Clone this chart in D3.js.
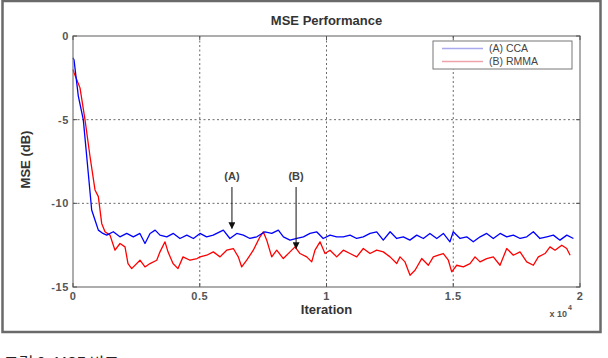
<!DOCTYPE html>
<html>
<head>
<meta charset="utf-8">
<script src="https://cdn.jsdelivr.net/npm/d3@7"></script>
<style>
  body { margin: 0; background: #fff; overflow: hidden; }
  svg { display: block; font-family: Arial, "Liberation Sans", sans-serif; }
</style>
</head>
<body>
<script>
//values (iteration, MSE in dB)
var itersCCA = [0, 40, 210, 406, 603, 737, 868, 1000, 1180, 1330, 1590, 1850, 2120, 2380, 2640, 2840, 3040, 3240, 3430,
  3700, 3960, 4220, 4490, 4750, 5010, 5270, 5530, 5930, 6190, 6460, 6720, 6980, 7250, 7570, 7840, 8100, 8300, 8560,
  8830, 9090, 9350, 9610, 9870, 10140, 10400, 10660, 10930, 11190, 11450, 11720, 11980, 12240, 12510, 12770, 13030,
  13290, 13560, 13820, 14080, 14350, 14610, 14870, 15000, 15270, 15530, 15790, 16060, 16320, 16580, 16850, 17110,
  17370, 17640, 17900, 18160, 18420, 18690, 18950, 19210, 19480, 19740];
var mseCCA = [-1.3, -1.43, -3.6, -5.0, -8.2, -10.4, -11.0, -11.6, -11.8, -11.9, -11.7, -12.0, -11.8, -12.0, -11.8, -12.4, -11.8, -11.6, -11.9,
  -12.0, -11.8, -12.1, -11.9, -12.1, -11.8, -12.0, -11.9, -11.6, -12.1, -11.8, -11.9, -12.1, -12.0, -11.7, -11.8, -11.6, -12.0, -12.2,
  -12.1, -12.0, -11.8, -11.7, -12.1, -11.9, -12.0, -12.0, -11.9, -12.1, -12.0, -11.8, -11.7, -12.2, -11.7, -12.1, -12.0,
  -12.2, -11.9, -12.1, -11.8, -12.1, -11.8, -12.3, -11.7, -12.1, -12.0, -12.3, -12.0, -11.8, -12.1, -11.8, -12.0,
  -11.9, -12.1, -12.0, -11.7, -12.1, -12.0, -11.9, -12.2, -11.9, -12.1];

var itersRMMA = [0, 40, 276, 473, 671, 868, 1000, 1132, 1262, 1460, 1657, 1854, 2051, 2170, 2316, 2643, 2840, 3038, 3302,
  3432, 3629, 3748, 3945, 4142, 4340, 4616, 4892, 5010, 5274, 5535, 5800, 6063, 6324, 6521, 6655, 6853, 7113, 7377,
  7507, 7642, 7839, 8036, 8296, 8560, 8758, 8955, 9220, 9417, 9547, 9744, 9941, 10138, 10403, 10663, 10928, 11192,
  11452, 11717, 11981, 12241, 12506, 12770, 12900, 13097, 13295, 13492, 13756, 14017, 14214, 14411, 14608, 14806,
  14940, 15137, 15397, 15662, 15859, 16056, 16320, 16580, 16845, 17110, 17370, 17634, 17898, 18160, 18357, 18620,
  18816, 19015, 19280, 19476, 19610];
var mseRMMA = [-2.0, -2.2, -3.1, -5.0, -7.2, -9.2, -9.6, -11.2, -11.7, -11.9, -12.8, -12.4, -12.6, -13.6, -13.9, -13.4, -13.8, -13.6, -13.4,
  -12.9, -12.3, -12.9, -13.6, -13.9, -13.2, -13.4, -13.3, -13.2, -13.1, -12.9, -13.2, -12.8, -12.7, -13.2, -13.8, -13.4, -12.8, -12.0,
  -11.7, -12.2, -13.2, -12.8, -13.3, -12.9, -12.6, -13.0, -13.2, -13.5, -12.8, -12.3, -13.0, -12.8, -13.2, -12.8, -13.0, -13.2,
  -12.7, -13.0, -12.8, -12.9, -13.2, -13.6, -13.2, -13.5, -14.3, -14.0, -13.3, -13.7, -13.2, -13.1, -13.0, -13.4,
  -14.1, -13.7, -13.8, -13.6, -13.2, -13.5, -13.3, -13.2, -13.7, -12.7, -13.1, -12.9, -13.5, -13.7, -13.2, -13.0,
  -12.6, -12.8, -12.5, -12.7, -13.1];

var xTicks = [0, 5000, 10000, 15000, 20000];
var xTickLabels = ["0", "0.5", "1", "1.5", "2"];
var yTicks = [0, -5, -10, -15];
var seriesNames = ["(A) CCA", "(B) RMMA"];
var seriesColors = ["#0000ff", "#ff0000"];
var legendColors = ["#a9a9ee", "#eea3ab"];
//annotation arrows: label, iteration, arrow tip (dB)
var noteLabels = ["(A)", "(B)"];
var noteIters = [6270, 8800];
var noteTips = [-11.5, -12.7];

(function(){
var width = 608, height = 358;
var mLeft = 73, mRight = 580, mTop = 36, mBottom = 287;

var svg = d3.select("body").append("svg")
    .attr("width", width)
    .attr("height", height);

//outer frame of the figure
svg.append("rect")
    .attr("x", 2.5).attr("y", 1)
    .attr("width", 598).attr("height", 331)
    .attr("fill", "#fff")
    .attr("stroke", "#6a6a6a")
    .attr("stroke-width", 2.5);

var x = d3.scaleLinear().domain([0, 20000]).range([mLeft, mRight]);
var y = d3.scaleLinear().domain([-15, 0]).range([mBottom, mTop]);

//grid
var grid = svg.append("g").attr("stroke", "#444").attr("stroke-width", 0.8).attr("stroke-dasharray", "2,2.5");
grid.selectAll(".gx").data(xTicks.slice(1, -1)).enter().append("line")
    .attr("x1", function(d){ return x(d); }).attr("x2", function(d){ return x(d); })
    .attr("y1", mTop).attr("y2", mBottom);
grid.selectAll(".gy").data(yTicks.slice(1, -1)).enter().append("line")
    .attr("x1", mLeft).attr("x2", mRight)
    .attr("y1", function(d){ return y(d); }).attr("y2", function(d){ return y(d); });

//series lines
var line = d3.line()
    .x(function(d){ return x(d[0]); })
    .y(function(d){ return y(d[1]); });

var dataCCA = d3.zip(itersCCA, mseCCA);
var dataRMMA = d3.zip(itersRMMA, mseRMMA);

svg.append("path").datum(dataRMMA)
    .attr("d", line).attr("fill", "none")
    .attr("stroke", seriesColors[1]).attr("stroke-width", 1.3).attr("stroke-linejoin", "round");
svg.append("path").datum(dataCCA)
    .attr("d", line).attr("fill", "none")
    .attr("stroke", seriesColors[0]).attr("stroke-width", 1.3).attr("stroke-linejoin", "round");

//axes box with inward ticks
svg.append("rect")
    .attr("x", mLeft).attr("y", mTop)
    .attr("width", mRight - mLeft).attr("height", mBottom - mTop)
    .attr("fill", "none").attr("stroke", "#777").attr("stroke-width", 1.2);

var tickG = svg.append("g").attr("stroke", "#555").attr("stroke-width", 1);
xTicks.forEach(function(t){
    tickG.append("line").attr("x1", x(t)).attr("x2", x(t)).attr("y1", mBottom).attr("y2", mBottom - 4);
    tickG.append("line").attr("x1", x(t)).attr("x2", x(t)).attr("y1", mTop).attr("y2", mTop + 4);
});
yTicks.forEach(function(t){
    tickG.append("line").attr("x1", mLeft).attr("x2", mLeft + 4).attr("y1", y(t)).attr("y2", y(t));
    tickG.append("line").attr("x1", mRight).attr("x2", mRight - 4).attr("y1", y(t)).attr("y2", y(t));
});

//tick labels
svg.selectAll(".xl").data(xTicks).enter().append("text")
    .attr("x", function(d){ return x(d); })
    .attr("y", mBottom + 13)
    .attr("text-anchor", "middle")
    .attr("font-size", 11).attr("font-weight", "bold").attr("fill", "#555")
    .attr("letter-spacing", 0.6)
    .text(function(d, i){ return xTickLabels[i]; });
svg.selectAll(".yl").data(yTicks).enter().append("text")
    .attr("x", mLeft - 4)
    .attr("y", function(d){ return y(d) + 4; })
    .attr("text-anchor", "end")
    .attr("font-size", 11).attr("font-weight", "bold").attr("fill", "#555")
    .attr("letter-spacing", 0.6)
    .text(function(d){ return d; });

//exponent label
svg.append("text")
    .attr("x", 567).attr("y", 317)
    .attr("text-anchor", "end")
    .attr("font-size", 9).attr("font-weight", "bold").attr("fill", "#555")
    .text("x 10");
svg.append("text")
    .attr("x", 568).attr("y", 310)
    .attr("font-size", 7).attr("font-weight", "bold").attr("fill", "#555")
    .text("4");

//titles
svg.append("text")
    .attr("x", (mLeft + mRight) / 2).attr("y", 25)
    .attr("text-anchor", "middle")
    .attr("font-size", 13).attr("font-weight", "bold").attr("fill", "#333")
    .text("MSE Performance");
svg.append("text")
    .attr("x", (mLeft + mRight) / 2).attr("y", 314)
    .attr("text-anchor", "middle")
    .attr("font-size", 13).attr("font-weight", "bold").attr("fill", "#333")
    .text("Iteration");
svg.append("text")
    .attr("transform", "translate(30," + ((mTop + mBottom) / 2 - 2) + ") rotate(-90)")
    .attr("text-anchor", "middle")
    .attr("font-size", 13).attr("font-weight", "bold").attr("fill", "#333")
    .text("MSE (dB)");

//legend
var legend = svg.append("g").attr("transform", "translate(433,41)");
legend.append("rect")
    .attr("width", 139).attr("height", 28)
    .attr("fill", "#fff").attr("stroke", "#777").attr("stroke-width", 1);
seriesNames.forEach(function(name, i){
    legend.append("line")
        .attr("x1", 9).attr("x2", 50)
        .attr("y1", 7.5 + i * 13).attr("y2", 7.5 + i * 13)
        .attr("stroke", legendColors[i]).attr("stroke-width", 1.4);
    legend.append("text")
        .attr("x", 56).attr("y", 11 + i * 13)
        .attr("font-size", 10.5).attr("fill", "#444")
        .text(name);
});

//annotation arrows
svg.append("defs").append("marker")
    .attr("id", "arrow")
    .attr("viewBox", "0 0 10 10")
    .attr("refX", 9).attr("refY", 5)
    .attr("markerWidth", 7).attr("markerHeight", 7)
    .attr("markerUnits", "userSpaceOnUse")
    .attr("orient", "auto")
    .append("path").attr("d", "M0,0L10,5L0,10z").attr("fill", "#111");

noteLabels.forEach(function(label, i){
    var nx = x(noteIters[i]);
    svg.append("text")
        .attr("x", nx).attr("y", 180)
        .attr("text-anchor", "middle")
        .attr("font-size", 11).attr("font-weight", "bold").attr("fill", "#444")
        .text(label);
    svg.append("line")
        .attr("x1", nx).attr("x2", nx)
        .attr("y1", 187).attr("y2", y(noteTips[i]))
        .attr("stroke", "#111").attr("stroke-width", 1)
        .attr("marker-end", "url(#arrow)");
});

//caption under the figure (cut by the page edge)
svg.append("text")
    .attr("x", 4).attr("y", 369)
    .attr("font-family", "'Noto Sans CJK KR', sans-serif")
    .attr("font-size", 16).attr("fill", "#222")
    .text("그림 9. MSE 비교");
})();
</script>
</body>
</html>
